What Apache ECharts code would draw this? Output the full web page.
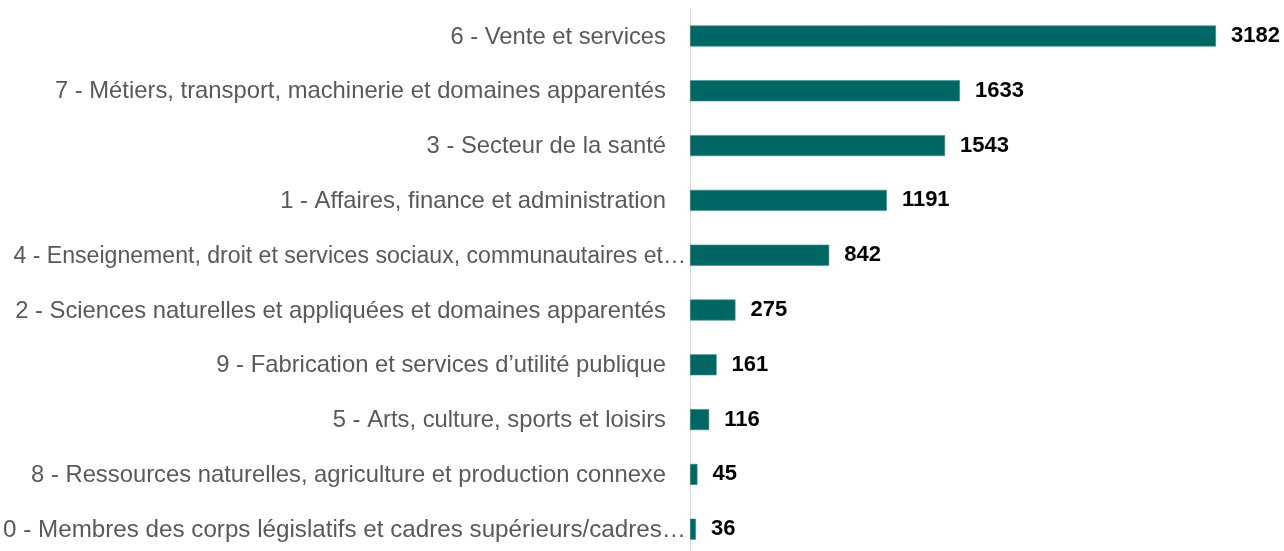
<!DOCTYPE html>
<html>
<head>
<meta charset="utf-8">
<script src="https://cdn.jsdelivr.net/npm/echarts@6/dist/echarts.min.js"></script>
<style>
html,body{margin:0;padding:0;background:#fff;}
#chart{width:1284px;height:551px;}
</style>
</head>
<body>
<div id="chart"></div>
<script>
const categories = [
  "6 - Vente et services",
  "7 - Métiers, transport, machinerie et domaines apparentés",
  "3 - Secteur de la santé",
  "1 - Affaires, finance et administration",
  "4 - Enseignement, droit et services sociaux, communautaires et…",
  "2 - Sciences naturelles et appliquées et domaines apparentés",
  "9 - Fabrication et services d’utilité publique",
  "5 - Arts, culture, sports et loisirs",
  "8 - Ressources naturelles, agriculture et production connexe",
  "0 - Membres des corps législatifs et cadres supérieurs/cadres…"
];
const values = [3182, 1633, 1543, 1191, 842, 275, 161, 116, 45, 36];

const chart = echarts.init(document.getElementById('chart'));
chart.setOption({
  animation: false,
  backgroundColor: '#ffffff',
  grid: { left: 690, right: 68, top: 8.6, bottom: -5.6, containLabel: false, outerBoundsMode: 'none' },
  xAxis: {
    type: 'value', min: 0, max: 3182, show: false
  },
  yAxis: {
    type: 'category', inverse: true, data: categories,
    axisLine: { show: true, lineStyle: { color: '#d9d9d9', width: 1 } },
    axisTick: { show: false },
    axisLabel: {
      margin: 4,
      interval: 0,
      formatter: function (v) {
        if (!v.endsWith('…')) return '{n|' + v + '}';
        return v.charAt(0) === '4' ? '{a|' + v + '}' : '{b|' + v + '}';
      },
      rich: {
        n: { fontFamily: 'Liberation Sans', fontSize: 23.8, color: '#595959', padding: [2, 20, 0, 0] },
        a: { fontFamily: 'Liberation Sans', fontSize: 23.1, color: '#595959', padding: [2, 0, 0, 0] },
        b: { fontFamily: 'Liberation Sans', fontSize: 24.2, color: '#595959', padding: [2, 0, 0, 0] }
      }
    }
  },
  series: [{
    type: 'bar',
    data: values,
    barWidth: 21,
    itemStyle: { color: '#006664', borderColor: '#3d8f8c', borderWidth: 0.6 },
    label: {
      show: true, position: 'right', distance: 15,
      fontFamily: 'Liberation Sans', fontWeight: 'bold', fontSize: 22, color: '#000000'
    }
  }]
});
</script>
</body>
</html>
